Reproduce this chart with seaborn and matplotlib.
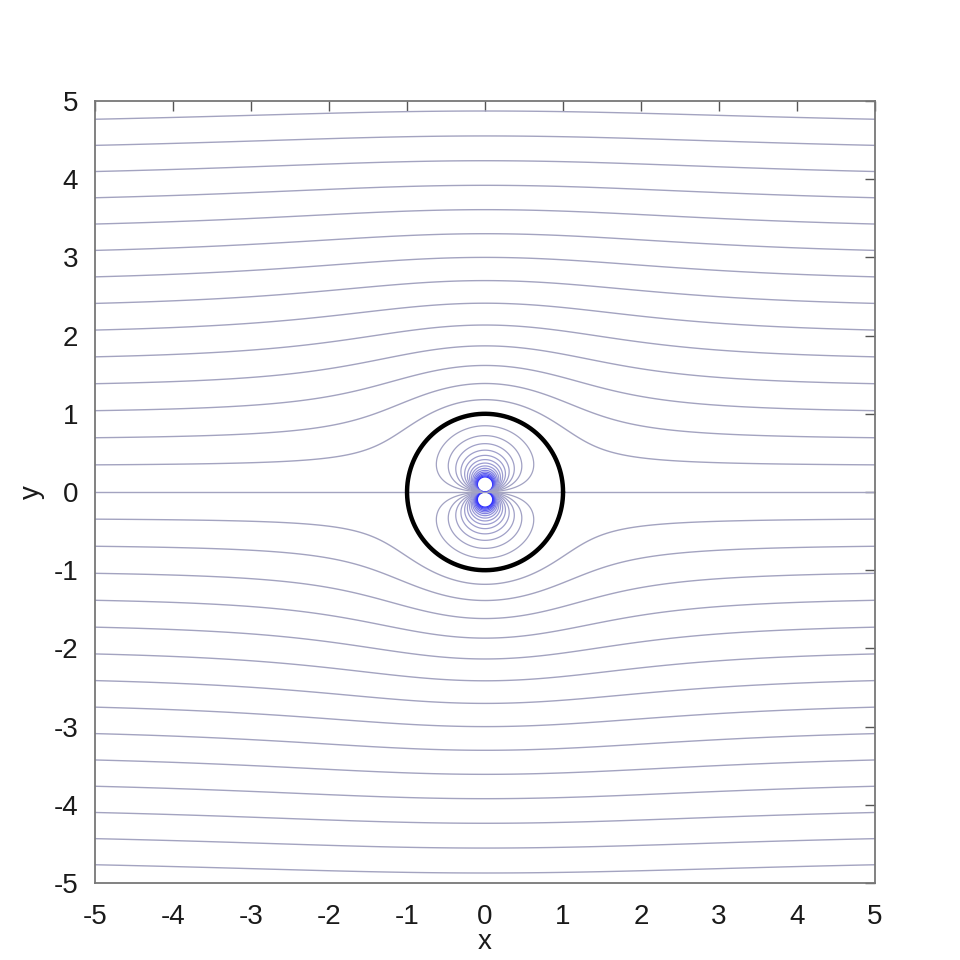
import numpy as np
import matplotlib
matplotlib.use("Agg")
import matplotlib.pyplot as plt
import seaborn as sns
from matplotlib.colors import LinearSegmentedColormap

# ---- data ----
U_inf = 1.0           # free-stream speed
cyl_radius = 1.0      # cylinder radius
x_range = [-5, 5]
y_range = [-5, 5]
stream_levels = [k / 3 for k in range(-15, 16)]   # psi contour levels
x_ticks = [-5, -4, -3, -2, -1, 0, 1, 2, 3, 4, 5]
y_ticks = [-5, -4, -3, -2, -1, 0, 1, 2, 3, 4, 5]

sns.set_theme(style="white")
plt.rcParams["font.family"] = ["Liberation Sans", "DejaVu Sans"]

fig = plt.figure(figsize=(9.6, 9.6), dpi=100)
ax = fig.add_axes([0.099, 0.0802, 0.8125, 0.8146])

xg = np.linspace(x_range[0], x_range[1], 801)
yg = np.linspace(y_range[0], y_range[1], 801)
X, Y = np.meshgrid(xg, yg)
R2 = X**2 + Y**2
R2 = np.where(R2 < 1e-9, 1e-9, R2)
psi = U_inf * Y * (1 - cyl_radius**2 / R2)

inside = R2 < cyl_radius**2
psi_out = np.where(inside, np.nan, psi)
psi_in = np.where(inside, psi, np.nan)

line_gray = "#a3a3c0"
ax.contour(X, Y, psi_out, levels=stream_levels, colors=line_gray,
           linewidths=1.0, linestyles="solid")

cmap_in = LinearSegmentedColormap.from_list("gb", [line_gray, "#9a9ad8", "#3030ff"])
inner_levels = [lv for lv in stream_levels if lv != 0]
inner_cols = [cmap_in(min(abs(lv) / 5.0, 1.0) ** 1.2) for lv in inner_levels]
ax.contour(X, Y, psi_in, levels=inner_levels, colors=inner_cols,
           linewidths=0.9, linestyles="solid")
# zero streamline (axis) inside cylinder
ax.plot([-cyl_radius, cyl_radius], [0, 0], color=line_gray, lw=1.0)

# cylinder outline
theta = np.linspace(0, 2 * np.pi, 400)
circ = {"cx": cyl_radius * np.cos(theta), "cy": cyl_radius * np.sin(theta)}
sns.lineplot(x=circ["cx"], y=circ["cy"], sort=False, estimator=None,
             color="black", lw=3.2, ax=ax)

ax.set_xlim(x_range)
ax.set_ylim(y_range)
ax.set_xticks(x_ticks)
ax.set_yticks(y_ticks)
ax.set_xticklabels([str(t) for t in x_ticks])
ax.set_yticklabels([str(t) for t in y_ticks])
ax.tick_params(direction="in", length=7, width=1, colors="#555555",
               labelcolor="#1a1a1a", labelsize=20, top=True, right=True)
ax.tick_params(axis="x", pad=15)
ax.tick_params(axis="y", pad=12)
for s in ax.spines.values():
    s.set_color("#777777")
    s.set_linewidth(1.3)
    s.set_visible(True)
ax.set_xlabel("x", fontsize=20, color="#1a1a1a", va="center")
ax.xaxis.set_label_coords(0.5, -0.076)
ax.set_ylabel("y", fontsize=20, labelpad=6, color="#1a1a1a")

fig.savefig("out.png", dpi=100, facecolor="white")
